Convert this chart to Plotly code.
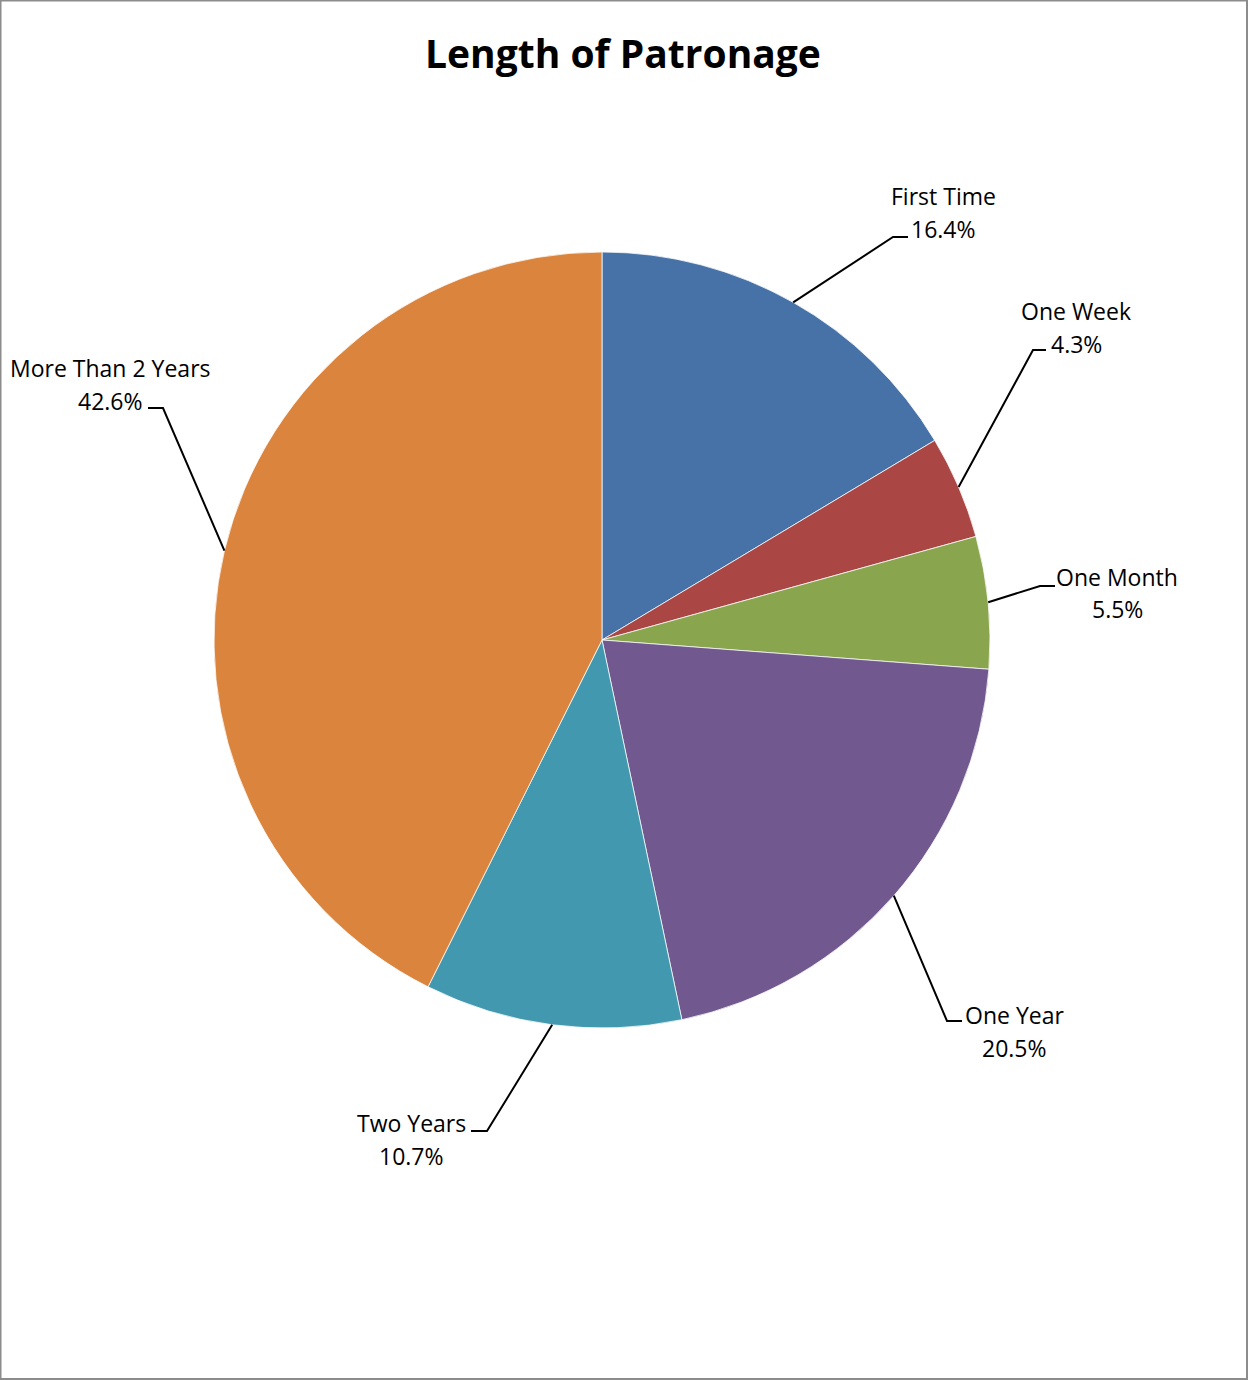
import math
import plotly.graph_objects as go

# ---- data ----
categories = ["First Time", "One Week", "One Month", "One Year", "Two Years", "More Than 2 Years"]
percent_values = [16.4, 4.3, 5.5, 20.5, 10.7, 42.6]
slice_colors = ["#4672A8", "#AA4643", "#89A54E", "#71588F", "#4198AF", "#DB843D"]

# ---- layout/style ----
W, H = 1249, 1380
CX, CY, R = 602, 640, 388
FONT = "'Open Sans', Lato, sans-serif"
# label placement: text centre x, name line y, percent line y
label_x = [943, 1076, 1117, 1014, 411, 110]
name_y = [196, 311, 577, 1015, 1123, 368]
pct_y = [229, 344, 609, 1048, 1156, 401]
knees = [(893, 237), (1033, 350), (1040, 586), (947, 1021), (487, 1131), (163, 408)]
tails = [(908, 237), (1046, 350), (1055, 586), (962, 1021), (471, 1131), (148, 408)]

fig = go.Figure()
fig.add_trace(go.Pie(
    labels=categories,
    values=percent_values,
    sort=False,
    direction="clockwise",
    rotation=0,
    textinfo="none",
    hoverinfo="label+percent",
    showlegend=False,
    marker=dict(colors=slice_colors, line=dict(color="rgba(255,255,255,0.75)", width=1)),
    domain=dict(x=[(CX - R) / W, (CX + R) / W], y=[1 - (CY + R) / H, 1 - (CY - R) / H]),
))

shapes = []
annotations = []
total = sum(percent_values)
cum = 0.0
for i, (lab, v) in enumerate(zip(categories, percent_values)):
    mid = (cum + v / 2) / total * 2 * math.pi
    cum += v
    ex = CX + R * math.sin(mid)
    ey = CY - R * math.cos(mid)
    kx, ky = knees[i]
    tx, ty = tails[i]
    shapes.append(dict(type="path", xref="x", yref="y",
                       path=f"M {ex:.1f} {ey:.1f} L {kx} {ky} L {tx} {ty}",
                       line=dict(color="black", width=2)))
    for txt, yy in ((lab, name_y[i]), (f"{v:.1f}%", pct_y[i])):
        annotations.append(dict(x=label_x[i], y=yy, xref="x", yref="y", showarrow=False,
                                text=txt, align="center",
                                font=dict(family=FONT, size=23, color="black"),
                                xanchor="center", yanchor="middle"))

# chart frame
shapes.append(dict(type="rect", xref="x", yref="y", x0=0.5, y0=0.5, x1=W - 2, y1=H - 1,
                   line=dict(color="#8c8c8c", width=2), layer="above"))

annotations.append(dict(x=623, y=52, xref="x", yref="y", showarrow=False,
                        text="<b>Length of Patronage</b>",
                        font=dict(family=FONT, size=39, color="black"),
                        xanchor="center", yanchor="middle"))

fig.update_layout(
    width=W, height=H,
    margin=dict(l=0, r=0, t=0, b=0),
    paper_bgcolor="white", plot_bgcolor="rgba(0,0,0,0)",
    xaxis=dict(range=[0, W], visible=False, fixedrange=True),
    yaxis=dict(range=[H, 0], visible=False, fixedrange=True),
    shapes=shapes, annotations=annotations,
)
fig.write_html("out.html")
